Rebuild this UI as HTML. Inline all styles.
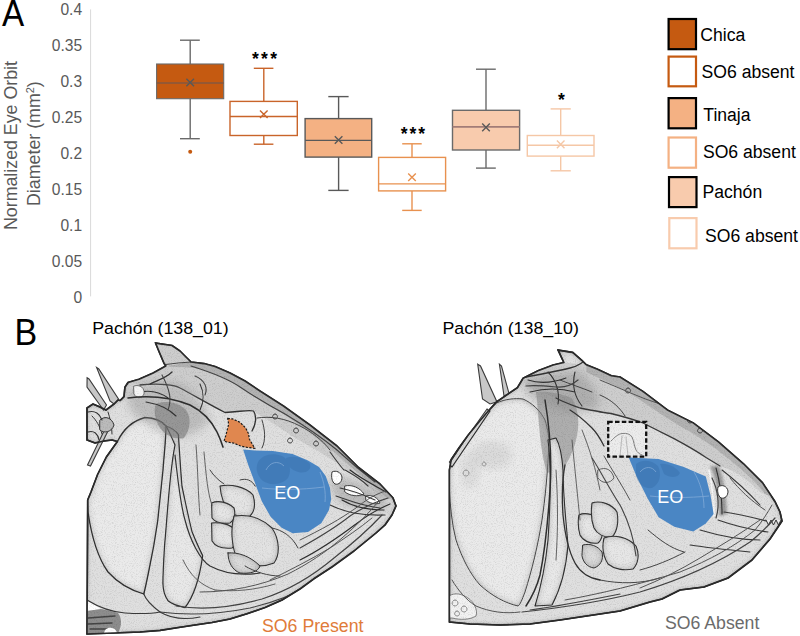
<!DOCTYPE html>
<html><head><meta charset="utf-8"><style>
html,body{margin:0;padding:0;background:#fff;width:800px;height:636px;overflow:hidden}
svg{display:block;font-family:"Liberation Sans",sans-serif}
</style></head><body>
<svg width="800" height="636" viewBox="0 0 800 636">
<rect width="800" height="636" fill="#fff"/>
<!-- ===== Panel A ===== -->
<text transform="translate(1.9,25.7) scale(0.91,1)" font-size="36.5" fill="#000">A</text>
<g font-size="15.6" fill="#595959" text-anchor="end">
<text x="82.1" y="14.5">0.4</text>
<text x="82.1" y="50.6">0.35</text>
<text x="82.1" y="86.7">0.3</text>
<text x="82.1" y="122.8">0.25</text>
<text x="82.1" y="158.9">0.2</text>
<text x="82.1" y="195.0">0.15</text>
<text x="82.1" y="231.1">0.1</text>
<text x="82.1" y="267.2">0.05</text>
<text x="82.1" y="303.3">0</text>
</g>
<line x1="90.6" y1="9.4" x2="90.6" y2="296.4" stroke="#d9d9d9" stroke-width="1"/>
<g font-size="17.8" fill="#595959" text-anchor="middle">
<text transform="translate(17.2,145.5) rotate(-90)" textLength="169" lengthAdjust="spacingAndGlyphs">Normalized Eye Orbit</text>
<text transform="translate(39.6,143.6) rotate(-90)" textLength="124.8" lengthAdjust="spacingAndGlyphs">Diameter (mm<tspan font-size="11" dy="-6">2</tspan><tspan dy="6">)</tspan></text>
</g>
<!-- boxes -->
<g stroke-width="1.4" fill="none">
<!-- box1 Chica -->
<g stroke="#6a6a6a">
<line x1="190.2" y1="40.2" x2="190.2" y2="64"/><line x1="180" y1="40.2" x2="199.8" y2="40.2"/>
<line x1="190.2" y1="98.7" x2="190.2" y2="138.7"/><line x1="180" y1="138.7" x2="199.8" y2="138.7"/>
<rect x="156.6" y="64" width="67.1" height="34.7" fill="#C55A11" stroke-width="1.1"/>
<line x1="156.6" y1="83" x2="223.7" y2="83" stroke="#85593f" stroke-width="1.6"/>
<path d="M186.4 78.7L194 86.3M194 78.7L186.4 86.3" stroke="#595959"/>
</g>
<circle cx="190.2" cy="151.8" r="2" fill="#C55A11"/>
<!-- box2 -->
<g stroke="#C9642A">
<line x1="263.8" y1="68.3" x2="263.8" y2="101.4"/><line x1="253.8" y1="68.3" x2="273.4" y2="68.3"/>
<line x1="263.8" y1="135.5" x2="263.8" y2="144.2"/><line x1="253.8" y1="144.2" x2="273.4" y2="144.2"/>
<rect x="230" y="101.4" width="67.3" height="34.1" fill="#fff"/>
<line x1="230" y1="116.5" x2="297.3" y2="116.5"/>
<path d="M260 110.4L267.6 118M267.6 110.4L260 118"/>
</g>
<!-- box3 Tinaja -->
<g stroke="#595959">
<line x1="338.6" y1="96.6" x2="338.6" y2="118.6"/><line x1="328.3" y1="96.6" x2="348.6" y2="96.6"/>
<line x1="338.6" y1="157.1" x2="338.6" y2="190.4"/><line x1="328.3" y1="190.4" x2="348.6" y2="190.4"/>
<rect x="305.1" y="118.6" width="66.6" height="38.5" fill="#F4B183"/>
<line x1="305.1" y1="140.4" x2="371.7" y2="140.4"/>
<path d="M334.8 136.2L342.4 143.8M342.4 136.2L334.8 143.8"/>
</g>
<!-- box4 -->
<g stroke="#E8914F">
<line x1="412" y1="143.8" x2="412" y2="157.4"/><line x1="402.2" y1="143.8" x2="421.7" y2="143.8"/>
<line x1="412" y1="190.9" x2="412" y2="210.4"/><line x1="402.2" y1="210.4" x2="421.7" y2="210.4"/>
<rect x="378.6" y="157.4" width="67" height="33.5" fill="#fff"/>
<line x1="378.6" y1="183.9" x2="445.6" y2="183.9"/>
<path d="M408.2 173.5L415.8 181.1M415.8 173.5L408.2 181.1"/>
</g>
<!-- box5 Pachon -->
<g stroke="#6a6a6a">
<line x1="486" y1="69.2" x2="486" y2="110.3"/><line x1="476" y1="69.2" x2="495.8" y2="69.2"/>
<line x1="486" y1="150" x2="486" y2="168.1"/><line x1="476" y1="168.1" x2="495.8" y2="168.1"/>
<rect x="452.5" y="110.3" width="67.1" height="39.7" fill="#F8CBAD"/>
<line x1="452.5" y1="126.8" x2="519.6" y2="126.8" stroke="#a27c77" stroke-width="1.8"/>
<path d="M482.2 123.6L489.8 131.2M489.8 123.6L482.2 131.2" stroke="#595959"/>
</g>
<!-- box6 -->
<g stroke="#F5C7A6">
<line x1="560.7" y1="108.9" x2="560.7" y2="135.5"/><line x1="550.6" y1="108.9" x2="570.8" y2="108.9"/>
<line x1="560.7" y1="156.1" x2="560.7" y2="170.8"/><line x1="550.6" y1="170.8" x2="570.8" y2="170.8"/>
<rect x="527.3" y="135.5" width="66.7" height="20.6" fill="#fff"/>
<line x1="527.3" y1="145.2" x2="594" y2="145.2"/>
<path d="M556.9 140.6L564.5 148.2M564.5 140.6L556.9 148.2"/>
</g>
</g>
<!-- asterisks -->
<g font-size="17.5" font-weight="bold" fill="#000" text-anchor="middle">
<text x="255.4" y="64.9">*</text><text x="264.5" y="64.9">*</text><text x="273.6" y="64.9">*</text>
<text x="404.2" y="139.6">*</text><text x="412.9" y="139.6">*</text><text x="421.6" y="139.6">*</text>
<text x="561.5" y="105.6">*</text>
</g>
<!-- legend -->
<g stroke-width="2.2">
<rect x="668.6" y="19" width="27.4" height="30.2" fill="#C55A11" stroke="#000"/>
<rect x="668.6" y="56.6" width="27.4" height="29.7" fill="#fff" stroke="#C55A11"/>
<rect x="668.6" y="98.1" width="27.4" height="30.2" fill="#F4B183" stroke="#000"/>
<rect x="668.6" y="137.5" width="27.4" height="30.2" fill="#fff" stroke="#F4B183"/>
<rect x="669" y="177.1" width="27.5" height="30" fill="#F8CBAD" stroke="#000"/>
<rect x="669.3" y="218.1" width="27.2" height="30.2" fill="#fff" stroke="#F8CBAD"/>
</g>
<g font-size="17.6" fill="#000">
<text x="700.3" y="41.2">Chica</text>
<text x="701.6" y="77.9">SO6 absent</text>
<text x="703.3" y="120.6">Tinaja</text>
<text x="702.9" y="157.9">SO6 absent</text>
<text x="702.5" y="198.3">Pachón</text>
<text x="705" y="242">SO6 absent</text>
</g>
<!-- ===== Panel B ===== -->
<defs>
<filter id="sh" x="-5%" y="-5%" width="110%" height="110%">
  <feGaussianBlur in="SourceAlpha" stdDeviation="2.5" result="b"/>
  <feComposite in="SourceAlpha" in2="b" operator="arithmetic" k2="1" k3="-1" result="edge"/>
  <feFlood flood-color="#000" flood-opacity="0.9"/>
  <feComposite in2="edge" operator="in" result="shadow"/>
  <feMerge><feMergeNode in="SourceGraphic"/><feMergeNode in="shadow"/></feMerge>
</filter>
<filter id="ps" x="-5%" y="-5%" width="110%" height="110%">
  <feGaussianBlur in="SourceAlpha" stdDeviation="3.5" result="b"/>
  <feComposite in="SourceAlpha" in2="b" operator="arithmetic" k2="1" k3="-1" result="edge"/>
  <feFlood flood-color="#000" flood-opacity="0.6"/>
  <feComposite in2="edge" operator="in" result="shadow"/>
  <feMerge><feMergeNode in="SourceGraphic"/><feMergeNode in="shadow"/></feMerge>
</filter>
<filter id="bl"><feGaussianBlur stdDeviation="4"/></filter>
<filter id="bl2"><feGaussianBlur stdDeviation="1.5"/></filter>
<filter id="noise" x="0" y="0" width="100%" height="100%">
  <feTurbulence type="fractalNoise" baseFrequency="0.9" numOctaves="2" seed="5"/>
  <feColorMatrix type="matrix" values="0 0 0 0 0  0 0 0 0 0  0 0 0 0 0  -2.2 0 0 0 1.15"/>
</filter>
<clipPath id="c1"><path d="M155.6,343.1 L172,345.5 L180,351 L184.7,355.7 L191,362 L204,363.6 L215,366.5 L230,373 L245,381 L260,391 L283.5,406 L310,425 L337,446 L358,467 L380,484 L393,498 L396,506 L392,515 L385,525 L376,533 L354,551 L332,567 L315,578 L300,589 L282,600 L265,607.6 L247,613.7 L230,619 L212,622.5 L195,625 L177,627.8 L160,630.4 L140,632 L87,634 L87.7,500 L91,492 L97.6,474.5 L106.4,457 L117.4,441.5 L112,440 L104,441 L95,443 L87,440 L87,408 L93,404 L100,407 L106,410 L110,407 L114,404 L118,400 L120.2,400.5 L124,396.6 L124.9,387.2 L128,382.5 L139,379.3 L153.2,373 L165.8,366 L164.2,363.6 L159.5,352.6 Z"/></clipPath>
<clipPath id="c2"><path d="M558.1,350.1 L572.8,352.4 L581.8,360.3 L586.3,364.8 L597.5,369.3 L611.4,375.7 L620,377 L642.9,391.4 L668,410.3 L693.2,422.9 L718.4,441.8 L743.5,463.8 L762.4,482.6 L775,501.5 L780,512 L782,521 L776,530 L770,539 L752,560 L728,578 L704,587 L680,590 L662,599 L650,602 L620,611 L590,615.5 L560,620 L530,624 L500,625 L470,624 L449.4,622 L449.4,470 L451.3,459.4 L458.9,448 L468.3,435 L477.7,423.6 L487.2,412.3 L496.6,401.9 L508.9,393.4 L517.4,387.7 L523,378.3 L538,370.8 L553.2,365 L563.8,362.5 Z"/></clipPath>
</defs>
<!-- skull 1 -->
<g id="sk1">
<path id="s1" d="M155.6,343.1 L172,345.5 L180,351 L184.7,355.7 L191,362 L204,363.6 L215,366.5 L230,373 L245,381 L260,391 L283.5,406 L310,425 L337,446 L358,467 L380,484 L393,498 L396,506 L392,515 L385,525 L376,533 L354,551 L332,567 L315,578 L300,589 L282,600 L265,607.6 L247,613.7 L230,619 L212,622.5 L195,625 L177,627.8 L160,630.4 L140,632 L87,634 L87.7,500 L91,492 L97.6,474.5 L106.4,457 L117.4,441.5 L112,440 L104,441 L95,443 L87,440 L87,408 L93,404 L100,407 L106,410 L110,407 L114,404 L118,400 L120.2,400.5 L124,396.6 L124.9,387.2 L128,382.5 L139,379.3 L153.2,373 L165.8,366 L164.2,363.6 L159.5,352.6 Z" fill="#dfdfdf" stroke="#333" stroke-width="1.5" filter="url(#sh)"/>
<path d="M96.6,367.5 L98.8,369 L118.5,399 L114,404 L110,401 Z M87.1,377.7 L89,379 L106.5,405 L103.5,410 L87,387 Z M104.5,430 L107.5,432 L90.5,466 L87.5,465 Z" fill="#c8c8c8" stroke="#3a3a3a" stroke-width="1.1"/>
</g>

<g fill="none" stroke-linecap="round" stroke-linejoin="round" clip-path="url(#c1)">
<!-- plates -->
<path d="M117.4,441.5 C123,430 132,421 145,417.5 C155,418 162,421 166,426 C166,440 164,455 163,470 C161,490 159,510 157.7,521 C155,540 152,556 149,570 C147,580 145.6,587 143.8,594 C130,590 117,582 108,572 C98,558 92,540 88,512 L87.7,500 L91,492 L97.6,474.5 L106.4,457 Z" filter="url(#ps)" fill="#eaeaea" stroke="#3a3a3a" stroke-width="1.3"/>
<path d="M166,426 C172,428 176,431 178.4,434.6 C180,460 181,475 182,486.5 C186,505 189,520 192,531.5 C196,542 200,550 202.7,555.7 C200,575 195,595 185,607.6 C178,606 172,604 168,600.7 C164,595 163,590 162.9,583 C163,570 164,555 164.6,545 C166,530 167,515 168,504 C170,480 172,460 175,445 C172,438 169,431 166,426 Z" filter="url(#ps)" fill="#e8e8e8" stroke="#3a3a3a" stroke-width="1.2"/>
<path d="M128,382.5 L139,379.3 L153.2,373 L165.8,366 L191,362 L204,363.6 L215,366.5 L230,373 L245,381 L260,391 L283.5,406 L310,425 L337,446 L358,467 L380,484 L393,498 L385,500 C370,488 355,476 340,465 C325,455 310,446 295,438 C280,428 268,420 253.5,411 C240,411.7 232,412.5 225,412.5 C210,405 195,396 180,388 C165,384 150,383 140,385 Z" fill="#cdcdcd"/>
<path d="M165.8,366 L191,362 L204,363.6 L215,366.5 L230,373 L245,381 L260,391 L283.5,406 L310,425 L337,446 L358,467 L380,484 L393,498 L388,499 C372,484 355,471 335,453 C315,436 298,424 282,413 C265,401 250,392 238,386 C225,378 210,371 195,368 C185,367 175,368 165.8,366 Z" fill="#b2b2b2"/>
<path d="M155.6,343.1 L172,345.5 L180,351 L184.7,355.7 L191,362 L178,363 L166,364.5 L164.2,363.6 L159.5,352.6 Z" fill="#cdcdcd" stroke="#444" stroke-width="1"/>
<path d="M220,486 C230,484 245,486 253,495 C256,505 254,512 250,516 C244,518 236,516 230,512 C224,506 221,498 220,486 Z" filter="url(#ps)" fill="#e4e4e4" stroke="#3f3f3f" stroke-width="1.1"/>
<path d="M211.6,503 C218,500 228,502 234,508 C236,515 234,521 230,523 C222,524 215,522 212,518 Z" filter="url(#ps)" fill="#e6e6e6" stroke="#3f3f3f" stroke-width="1.1"/>
<path d="M211.6,523 C220,522 230,524 235.5,530 C237,538 236,545 232,548 C222,549 215,546 212,541 Z" filter="url(#ps)" fill="#e6e6e6" stroke="#3f3f3f" stroke-width="1.1"/>
<path d="M234,516 C248,514 262,518 272,528 C280,540 280,555 274,563 C262,568 248,566 238,560 C232,550 230,530 234,516 Z" filter="url(#ps)" fill="#e2e2e2" stroke="#3f3f3f" stroke-width="1.1"/>
<path d="M228,553 C238,552 250,556 260,566 C258,572 250,574 240,573 C232,570 228,562 228,553 Z" filter="url(#ps)" fill="#dcdcdc" stroke="#3f3f3f" stroke-width="1"/>
<!-- dark cavity -->
<path d="M156,404 C165,400 178,402 186,410 C192,418 190,430 184,438 C176,440 166,436 160,428 C155,420 153,410 156,404 Z" fill="#6a6a6a" opacity="0.55"/>
<!-- lines -->
<path d="M191,366 C210,372 230,380 240,387 C255,397 270,406 285,414 C300,423 320,436 337,450 C350,462 362,472 375,482" stroke="#444" stroke-width="1.2"/>
<path d="M140,385 C160,383 175,385 180,388 C195,396 210,405 225,412.5 C240,411.7 249,409.5 253.5,411 C257,416 256,424 252,431" stroke="#333" stroke-width="1.3"/>
<!-- more skull1 detail -->
<path d="M196,445 C198,470 198,495 200,515 M204,452 C206,475 208,495 212,505 M183,560 C190,575 200,585 215,590 M215,590 C235,592 255,590 275,584" stroke="#555" stroke-width="0.9"/>
<path d="M210,470 C214,476 218,480 224,484 M240,480 C246,478 252,480 255,486 M272,528 C282,530 292,536 298,548 M245,566 C255,572 268,576 280,576" stroke="#444" stroke-width="1"/>
<path d="M92,416 C96,420 100,426 102,434 M108,412 C110,418 112,426 112,434" stroke="#333" stroke-width="1"/>
<path d="M160,612 C190,616 220,614 250,608 C275,602 295,594 310,585" stroke="#444" stroke-width="1.1"/>

<path d="M330,478 C345,476 360,482 375,490 C385,496 390,502 388,510 C375,512 360,510 345,505 C335,500 330,490 330,478 Z" fill="#7a7a7a" opacity="0.35" filter="url(#bl)"/>
<path d="M345,486 C352,484 360,488 364,494 C358,497 350,496 345,492 Z M366,496 C372,494 378,498 380,503 C375,505 369,503 366,500 Z" fill="#fff" stroke="#333" stroke-width="0.9"/>
<path d="M350,470 C360,478 372,484 386,492 M342,500 C352,506 366,510 384,510 M300,560 C320,550 340,536 356,524 C366,516 376,510 390,504" stroke="#2e2e2e" stroke-width="1.2"/>

<path d="M126,390 C140,384 160,380 180,384 C195,392 205,405 210,420 C200,432 185,438 170,436 C155,430 140,420 130,410 Z" fill="#8c8c8c" opacity="0.4" filter="url(#bl)"/>
<path d="M140,392 C150,390 160,392 168,398 M146,402 C158,404 168,408 176,416 M200,384 C204,392 204,402 200,410" stroke="#333" stroke-width="1.1"/>

<path d="M87,600 C92,603 97,606 101,609 L87,611 Z" fill="#fff"/>
<path d="M87,611 L101,609 C106,610 112,611 118,613 C122,618 122,626 118,633 L87,634 Z" fill="#8d8d8d"/>
<path d="M88,618 L115,616 M88,624 L112,623 M90,629 L108,629" stroke="#444" stroke-width="1.4"/>
<path d="M104,634 C104,629 108,627 112,628 C116,629 117,632 117,634 Z" fill="#fff"/>
<path d="M87,600 C100,608 112,612 125,613 C140,614 150,614 160,612" stroke="#3a3a3a" stroke-width="1.1"/>
<path d="M143.8,594 C146,600 152,606 160,612 C170,618 185,620 200,617" stroke="#3a3a3a" stroke-width="1.1"/>
<path d="M330,452 C336,460 340,466 344,470 M345,470 C352,474 360,478 368,486 M340,488 C350,490 362,494 375,500 M336,496 C348,500 362,506 380,508 M330,505 C345,512 360,516 385,515" stroke="#3a3a3a" stroke-width="1.1"/>
<path d="M300,548 C318,538 335,528 350,516 C362,508 375,502 388,498" stroke="#444" stroke-width="1.1"/>
<path d="M270,580 C290,570 310,560 330,548 C345,538 360,528 372,518" stroke="#555" stroke-width="1"/>
<path d="M262,420 C265,430 266,440 262,448 M275,414 a2.5,2.5 0 1,0 0.1,0 M296,428 a2.5,2.5 0 1,0 0.1,0 M290,438 a2.5,2.5 0 1,0 0.1,0 M316,441 a2.5,2.5 0 1,0 0.1,0" stroke="#444" stroke-width="1"/>
<path d="M100,420 C105,415 112,418 114,425 C112,432 104,434 100,430 Z" fill="#bbb" stroke="#333" stroke-width="1"/>
<path d="M88,412 C95,410 100,414 102,420 M88,432 C94,430 98,434 99,440" stroke="#333" stroke-width="1.1"/>
<path d="M134,386 C140,384 145,388 144,394 C142,399 136,399 134,394 Z" fill="#f4f4f4" stroke="#555" stroke-width="0.8"/>
<path d="M128,398 C150,395 170,397 190,405 C200,410 210,418 217,432 C220,438 222,444 223,447" stroke="#2e2e2e" stroke-width="1.6"/>
<path d="M175,455 C178,480 180,503 185,520 C190,540 200,560 210,566 C225,574 240,576 260,573" stroke="#333" stroke-width="1.2"/>
<path d="M176,606 C200,610 230,608 262,599 C290,590 315,574 334,558 C352,544 368,530 382,515" stroke="#444" stroke-width="1.2"/>
<path d="M200,592 C230,592 260,586 288,574 C308,564 326,552 342,538 C356,526 368,514 378,502" stroke="#555" stroke-width="1"/>
<path d="M300,540 C320,530 340,520 360,505 C370,497 380,492 390,490" stroke="#555" stroke-width="1"/>
<path d="M255,452 C262,462 262,476 256,486" stroke="#444" stroke-width="1"/>
<path d="M150,384 C158,380 166,378 172,372" stroke="#333" stroke-width="1.2"/>
<path d="M162,375 C170,390 172,400 168,410" stroke="#444" stroke-width="1.1"/>
<path d="M195,376 C205,380 208,388 205,395" stroke="#444" stroke-width="1.1"/>
<path d="M257,418 C270,416 285,418 300,426 C312,432 322,440 330,450" stroke="#444" stroke-width="1"/>
</g>
<path d="M332,472 C336,470 341,472 342,477 C342,482 339,485 335,484 C332,482 331,477 332,472 Z" fill="#fff" stroke="#333" stroke-width="1"/>

<!-- skull 2 -->
<g id="sk2">
<path id="s2" d="M558.1,350.1 L572.8,352.4 L581.8,360.3 L586.3,364.8 L597.5,369.3 L611.4,375.7 L620,377 L642.9,391.4 L668,410.3 L693.2,422.9 L718.4,441.8 L743.5,463.8 L762.4,482.6 L775,501.5 L780,512 L782,521 L776,530 L770,539 L752,560 L728,578 L704,587 L680,590 L662,599 L650,602 L620,611 L590,615.5 L560,620 L530,624 L500,625 L470,624 L449.4,622 L449.4,470 L451.3,459.4 L458.9,448 L468.3,435 L477.7,423.6 L487.2,412.3 L496.6,401.9 L508.9,393.4 L517.4,387.7 L523,378.3 L538,370.8 L553.2,365 L563.8,362.5 Z" fill="#dfdfdf" stroke="#333" stroke-width="1.5" filter="url(#sh)"/>
<path d="M477.7,364.2 L480.5,366 L497,401.9 L490,404 L482.5,399 Z M499.4,364.2 L501.5,366 L509,393.4 L504,396 Z M487,409 L490,412 L451.5,465 L449.4,462 Z" fill="#c8c8c8" stroke="#3a3a3a" stroke-width="1.1"/>
</g>

<g fill="none" stroke-linecap="round" stroke-linejoin="round" clip-path="url(#c2)">
<path d="M449.4,470 L451.3,459.4 L458.9,448 L468.3,435 L477.7,423.6 L487.2,412.3 L496.6,403 C505,399 515,398 523,399 C532,403 540,410 545,420 C548,430 549,438 549,442 C548,470 545,500 542,520 C538,545 532,570 525,592 C522,600 520,605 518,606 C505,603 492,596 480,585 C470,574 462,558 456,540 C452,525 450,505 449.4,490 Z" filter="url(#ps)" fill="#eaeaea" stroke="#555" stroke-width="1"/>
<ellipse cx="492" cy="455" rx="20" ry="14" fill="#c8c8c8" opacity="0.45" filter="url(#bl)"/>
<ellipse cx="470" cy="470" rx="10" ry="18" fill="#c8c8c8" opacity="0.4" filter="url(#bl)"/>
<path d="M486,408 L490,411 L452,467 L449,464 Z" fill="#d8d8d8" stroke="#2a2a2a" stroke-width="1.2"/>
<path d="M523,378.3 L538,370.8 L553.2,365 L563.8,362.5 L586.3,364.8 L597.5,369.3 L611.4,375.7 L620,377 L642.9,391.4 L668,410.3 L693.2,422.9 L718.4,441.8 L743.5,463.8 L762.4,482.6 L772,497 L760,492 C750,482 740,474 730,470 L720,466 L706,457.5 C695,450 685,444 674,438.6 C663,432 653,427 643,423 C632,419 622,416 611,413.5 C600,411 590,410 580,408 C570,404 562,401 556,398 C550,395 545,393 540,392 C535,390 530,388 526,386 Z" fill="#cdcdcd"/>
<path d="M586.3,364.8 L597.5,369.3 L611.4,375.7 L620,377 L642.9,391.4 L668,410.3 L693.2,422.9 L718.4,441.8 L743.5,463.8 L762.4,482.6 L772,497 L765,494 C755,480 740,468 725,456 C710,444 695,434 678,425 C660,414 645,403 628,392 C612,384 598,378 586.3,372 Z" fill="#b2b2b2"/>
<path d="M536,392 C548,391 562,394 572,398 C579,410 580,425 576,440 C572,455 566,466 560,472 C553,474 548,474 546,470 C542,455 540,440 539,425 C538,412 537,400 536,392 Z" fill="#858585" opacity="0.55"/>
<path d="M548,440 C552,470 550,510 548,540 C545,570 540,590 535,606 L552,605 C560,590 566,570 568,545 C566,520 563,495 563,470 C562,455 560,445 556,438 Z" filter="url(#ps)" fill="#e8e8e8" stroke="#3a3a3a" stroke-width="1.1"/>
<path d="M578.9,515 C585,512 596,514 602,522 C604,532 602,540 598,543 C590,544 583,541 580,535 C578,528 578,520 578.9,515 Z" filter="url(#ps)" fill="#e6e6e6" stroke="#3f3f3f" stroke-width="1.1"/>
<path d="M592,503 C600,500 612,504 617,512 C619,522 617,532 612,537 C604,538 597,534 594,528 C591,520 591,510 592,503 Z" filter="url(#ps)" fill="#e4e4e4" stroke="#3f3f3f" stroke-width="1.1"/>
<path d="M604,538 C614,534 628,537 636,546 C640,555 638,564 633,569 C624,571 614,569 608,564 C603,556 602,546 604,538 Z" filter="url(#ps)" fill="#e6e6e6" stroke="#3f3f3f" stroke-width="1.1"/>
<path d="M583,545 C590,543 598,546 602,552 C604,560 600,566 594,568 C587,567 583,562 582,556 Z" filter="url(#ps)" fill="#dcdcdc" stroke="#3f3f3f" stroke-width="1"/>
<!-- more skull2 detail -->
<path d="M556,470 C558,500 558,530 556,560 M572,440 C575,470 578,500 580,520 M582,430 C590,450 596,470 600,490" stroke="#555" stroke-width="0.9"/>
<path d="M600,580 C620,584 640,584 660,578 M640,570 C655,566 670,560 685,552 M648,530 C660,540 670,548 684,552" stroke="#444" stroke-width="1"/>
<path d="M530,610 C560,606 590,600 620,594" stroke="#444" stroke-width="1.1"/>
<path d="M598,470 C606,466 612,470 614,478 C610,484 602,484 598,478 Z" stroke="#555" stroke-width="0.9"/>

<path d="M524,382 C540,376 560,372 580,372 C590,380 598,392 600,405 C590,412 575,414 560,410 C545,405 532,398 524,390 Z" fill="#8c8c8c" opacity="0.45" filter="url(#bl)"/>
<path d="M530,392 C545,388 560,388 575,392 M528,380 C540,384 552,383 566,378 M548,372 C556,380 560,392 558,404 M575,372 C572,384 574,396 582,406" stroke="#333" stroke-width="1.1"/>

<path d="M710,466 C716,478 719,495 719,516 L727,514 C726,495 724,480 719,466 Z" fill="#5a5a5a" opacity="0.55" filter="url(#bl2)"/>
<path d="M709,470 C712,485 714,500 714,516" stroke="#f6f6f6" stroke-width="1.6"/>
<path d="M716,468 C720,482 722,498 722,514" stroke="#333" stroke-width="1.1"/>
<path d="M722,470 C735,480 748,492 760,505 M724,512 C740,514 755,518 770,522 M718,520 C735,526 752,530 768,532 M700,530 C720,536 740,540 760,540 M690,545 C710,548 730,550 750,552" stroke="#3a3a3a" stroke-width="1.1"/>
<path d="M730,478 C740,490 750,500 765,510" stroke="#555" stroke-width="1"/>
<path d="M766,520 l2.5,5 l2.5,-5 l2.5,5 l2.5,-5 l2.5,5 l2.5,-5" stroke="#333" stroke-width="1" fill="#eee"/>
<path d="M449,596 C455,592 462,594 468,598 C474,602 478,610 476,616 C470,620 460,620 452,618 L449,618 Z" fill="#f2f2f2" stroke="#666" stroke-width="0.8"/>
<path d="M455,600 a3,3 0 1,0 0.1,0 M464,606 a3,3 0 1,0 0.1,0 M457,611 a2.5,2.5 0 1,0 0.1,0" stroke="#777" stroke-width="0.8"/>
<path d="M660,398 a2.5,2.5 0 1,0 0.1,0 M690,418 a2.5,2.5 0 1,0 0.1,0 M700,428 a2.5,2.5 0 1,0 0.1,0 M628,388 a2.5,2.5 0 1,0 0.1,0" stroke="#444" stroke-width="1"/>
<path d="M600,395 C612,400 620,408 625,416 M560,380 C570,384 582,388 592,392" stroke="#444" stroke-width="1"/>
<path d="M609,422 L646,422 L646,456 L609,456 Z" fill="#ececec" stroke="none"/><path d="M611,441 C615,437 618,434 622,433.5 C627,433 630,434 632,437 C634,441 634,446 636,450 C637,452 639,454 642,455" stroke="#777" stroke-width="0.9"/><path d="M622,436 L620,456 M626,437 L628,456" stroke="#bbb" stroke-width="1"/>
<path d="M466,470 a3,3 0 1,0 0.1,0 M484,462 a2,2 0 1,0 0.1,0" stroke="#888" stroke-width="0.8"/>
<path d="M592,458 C600,470 610,490 620,505 C628,520 634,540 636,556" stroke="#444" stroke-width="1.1"/>
<path d="M604,456 C612,470 622,485 630,500" stroke="#555" stroke-width="1"/>
<path d="M522,378 C540,374 555,372 570,368 C578,366 584,362 586,358" stroke="#333" stroke-width="1.3"/>
<path d="M526,386 C536,385 546,386 556,387 C566,388 572,385 578,380" stroke="#444" stroke-width="1.2"/>
<path d="M556,398 C565,403 575,406 580,408 C595,411 605,413 611,413.5 C625,417 635,420 643,423 C655,429 665,434 674,438.6 C686,445 698,452 706,457.5 L720,466" stroke="#3a3a3a" stroke-width="1.3"/>
<path d="M570,410 C578,415 586,422 592,428 C598,434 602,442 604,446" stroke="#333" stroke-width="1.3"/>
<path d="M545,400 C550,430 552,460 550,490 C548,520 545,550 540,575 C536,590 530,600 526,606" stroke="#2f2f2f" stroke-width="1.5"/>
<path d="M565,465 C562,480 562,500 563,515 C565,535 568,550 575,563 C580,572 588,578 600,580" stroke="#333" stroke-width="1.3"/>
<path d="M522,612 C560,608 600,602 640,592 C680,580 720,562 750,542 C760,534 768,526 775,518" stroke="#444" stroke-width="1.2"/>
<path d="M565,600 C600,594 640,584 680,572 C710,560 735,546 755,530 C762,522 768,512 772,505" stroke="#555" stroke-width="1"/>
<path d="M640,588 C660,580 680,570 700,558 C720,546 740,534 760,520" stroke="#555" stroke-width="1"/>
<path d="M712,478 C718,490 720,505 716,518" stroke="#444" stroke-width="1.2"/>
<path d="M600,380 C620,388 640,398 660,404" stroke="#555" stroke-width="1"/>
<path d="M452,580 C458,590 466,600 476,606 C490,612 505,614 520,612" stroke="#555" stroke-width="1"/>
</g>


<rect x="80" y="340" width="320" height="296" filter="url(#noise)" clip-path="url(#c1)" opacity="0.12"/>
<rect x="440" y="345" width="345" height="285" filter="url(#noise)" clip-path="url(#c2)" opacity="0.12"/>
<path d="M718,487 C722,484 727,486 728,491 C728,496 725,499 721,498 C718,496 717,491 718,487 Z" fill="#fff" stroke="#333" stroke-width="1"/>
<path d="M155.6,343.1 L172,345.5 L180,351 L184.7,355.7 L191,362 L204,363.6 L215,366.5 L230,373 L245,381 L260,391 L283.5,406 L310,425 L337,446 L358,467 L380,484 L393,498 L396,506 L392,515 L385,525 L376,533 L354,551 L332,567 L315,578 L300,589 L282,600 L265,607.6 L247,613.7 L230,619 L212,622.5 L195,625 L177,627.8 L160,630.4 L140,632 L87,634 L87.7,500 L91,492 L97.6,474.5 L106.4,457 L117.4,441.5 L112,440 L104,441 L95,443 L87,440 L87,408 L93,404 L100,407 L106,410 L110,407 L114,404 L118,400 L120.2,400.5 L124,396.6 L124.9,387.2 L128,382.5 L139,379.3 L153.2,373 L165.8,366 L164.2,363.6 L159.5,352.6 Z" fill="none" stroke="#2a2a2a" stroke-width="1.6" stroke-linejoin="round"/>
<path d="M558.1,350.1 L572.8,352.4 L581.8,360.3 L586.3,364.8 L597.5,369.3 L611.4,375.7 L620,377 L642.9,391.4 L668,410.3 L693.2,422.9 L718.4,441.8 L743.5,463.8 L762.4,482.6 L775,501.5 L780,512 L782,521 L776,530 L770,539 L752,560 L728,578 L704,587 L680,590 L662,599 L650,602 L620,611 L590,615.5 L560,620 L530,624 L500,625 L470,624 L449.4,622 L449.4,470 L451.3,459.4 L458.9,448 L468.3,435 L477.7,423.6 L487.2,412.3 L496.6,401.9 L508.9,393.4 L517.4,387.7 L523,378.3 L538,370.8 L553.2,365 L563.8,362.5 Z" fill="none" stroke="#2a2a2a" stroke-width="1.6" stroke-linejoin="round"/>
<!-- overlays -->
<path d="M227.7,418.5 L232.5,418.9 L240,422.3 L245.7,428 L248.5,433.6 L249.4,439.2 L252.3,444 L254.7,448.3 L245.7,447.2 L240,445.8 L233.4,443 L226.8,442 L224,441.1 L225.8,435.5 L227.2,429.8 L228.7,424.2 Z" fill="#E0874F" stroke="#1a1a1a" stroke-width="1.2" stroke-dasharray="2.2,1.4"/>
<path d="M243.1,449.5 L255.2,450.6 L272.8,451 L292.6,454 L308,460.5 L319,467 L325.7,476 L330,488 L331.2,499 L329,510 L321.3,523.3 L308,532 L292.6,533.2 L281.6,527.7 L270.6,516.7 L261.8,501.3 L255.2,483.6 L248.6,466 Z" fill="#4a86c4"/>
<path d="M628.7,457.5 L658.6,459 L683.8,467 L705.8,476.4 L710.5,495.2 L713.6,514 L705.8,523.5 L693.2,531.4 L674.3,526.7 L658.6,517.2 L647.6,498.4 L636.6,476.4 Z" fill="#4a86c4"/>
<g fill="#2d649f" opacity="0.3">
<path d="M258,462 C262,455 272,452 282,456 C290,460 292,470 288,478 C282,485 270,486 263,481 C257,476 255,468 258,462 Z"/>
<path d="M286,458 C294,455 304,458 310,464 C312,470 306,474 298,472 C291,470 286,465 286,458 Z"/>
<path d="M636,464 C642,459 652,460 658,466 C662,474 660,484 652,488 C644,489 638,484 636,476 Z"/>
<path d="M660,464 C668,463 676,467 680,473 C678,478 670,478 664,474 Z"/>
</g>
<g fill="none" stroke="#8fb3dc" stroke-width="0.9" opacity="0.7">
<path d="M262,488 C280,490 300,490 324,487"/>
<path d="M266,470 C270,462 278,460 284,466"/>
<path d="M650,496 C668,498 688,498 709,496"/>
<path d="M640,472 C645,466 652,466 656,472"/>
<path d="M320,472 C324,482 326,492 325,502"/>
<path d="M694,472 C700,482 704,495 704,508"/>
</g>
<rect x="608.2" y="421.8" width="38" height="34.8" fill="none" stroke="#111" stroke-width="2.3" stroke-dasharray="4.5,2.3"/>
<g font-size="18" fill="#fff">
<text x="274.3" y="499">EO</text>
<text x="657.2" y="503">EO</text>
</g>

<text transform="translate(14.5,344.8) scale(0.92,1)" font-size="37" fill="#000">B</text>
<g font-size="16.8" fill="#000">
<text x="92.2" y="334" textLength="136.5" lengthAdjust="spacingAndGlyphs">Pachón (138_01)</text>
<text x="442.4" y="334" textLength="136.5" lengthAdjust="spacingAndGlyphs">Pachón (138_10)</text>
</g>
<text x="262" y="632" font-size="18" fill="#E07B39" textLength="101.5" lengthAdjust="spacingAndGlyphs">SO6 Present</text>
<text x="665" y="629.4" font-size="17.5" fill="#6b6b6b" textLength="94.3" lengthAdjust="spacingAndGlyphs">SO6 Absent</text>
</svg>
</body></html>
